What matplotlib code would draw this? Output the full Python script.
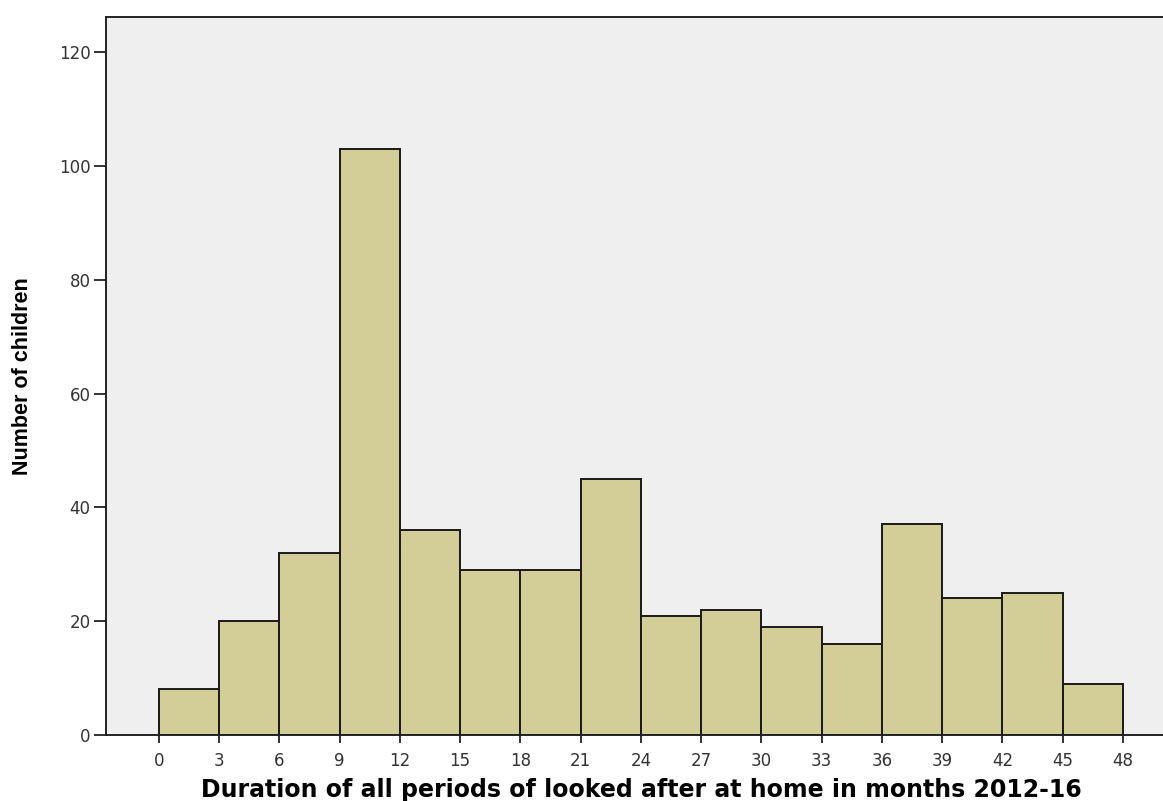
import numpy as np
import matplotlib
matplotlib.use("Agg")
import matplotlib.pyplot as plt

# histogram of durations, 3-month bins
bin_edges = [0, 3, 6, 9, 12, 15, 18, 21, 24, 27, 30, 33, 36, 39, 42, 45, 48]
counts = [8, 20, 32, 103, 36, 29, 29, 45, 21, 22, 19, 16, 37, 24, 25, 9]
y_ticks = [0, 20, 40, 60, 80, 100, 120]

fig = plt.figure(figsize=(11.63, 8.01), dpi=100)
ax = fig.add_axes([0.0911, 0.0824, 0.9089, 0.8964])
ax.set_facecolor("#efefef")

edges = np.array(bin_edges)
ax.bar(edges[:-1], counts, width=np.diff(edges), align="edge",
       color="#d3ce97", edgecolor="#1a1a1a", linewidth=1.4, zorder=2)

ax.set_xlim(-2.64, 50)
ax.set_ylim(0, 126.2)
ax.set_xticks(bin_edges)
ax.set_yticks(y_ticks)
ax.tick_params(axis="both", direction="out", width=1.3,
               labelsize=12, colors="#222222")
ax.tick_params(axis="y", length=9, pad=2)
ax.tick_params(axis="x", length=6, pad=6)
for lbl in ax.get_xticklabels() + ax.get_yticklabels():
    lbl.set_color("#333333")

for side in ["left", "bottom", "top"]:
    ax.spines[side].set_linewidth(1.4)
    ax.spines[side].set_color("#222222")
ax.spines["right"].set_visible(False)

ax.set_xlabel("Duration of all periods of looked after at home in months 2012-16",
              fontsize=17, fontweight="bold", family="DejaVu Sans")
ax.xaxis.set_label_coords(0.507, -0.06)
ax.set_ylabel("Number of children", fontsize=15.5, fontweight="bold",
              family="Liberation Sans")
ax.yaxis.set_label_coords(-0.069, 0.5)

fig.savefig("out.png", dpi=100)
